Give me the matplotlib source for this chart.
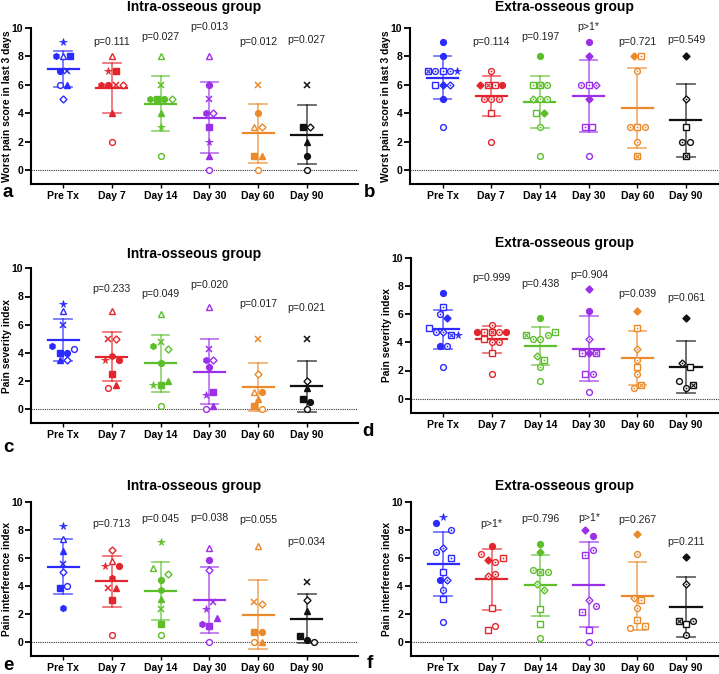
import numpy as np
import matplotlib
matplotlib.use('Agg')
import matplotlib.pyplot as plt

plt.rcParams['font.family'] = ['Liberation Sans', 'DejaVu Sans']

nan = np.nan

days = ['Pre Tx', 'Day 7', 'Day 14', 'Day 30', 'Day 60', 'Day 90']
day_colors = ['#2b2bff', '#e3262d', '#5cbf2a', '#9b30e8', '#ea8a2b', '#111111']

# intra-osseous group: one marker per patient, values per day (patient order)
intra_marks = ['*', 'fh', 'o^', 'fs', 'fo', 'x', 'oo', 'f^', 'oD']

intra_worst = [
    [9, 8, 8, 8, 7, 7, 6, 6, 5],
    [7, 6, 8, 7, 6, 6, 2, 4, 6],
    [3, 5, 8, 5, 5, 6, 1, 4, 5],
    [2, 4, 8, 3, 6, 5, 0, 1, 4],
    [nan, nan, 3, 1, 4, 6, 0, 1, 3],
    [nan, nan, nan, 3, 1, 6, 0, 2, 3],
]
intra_severity = [
    [7.5, 4.5, 7, 4, 4, 6, 4.25, 3.5, 3.5],
    [3.5, 3.75, 7, 2.5, 3.5, 5, 1.5, 1.75, 5],
    [1.75, 4.5, 6.75, 1.75, 3.25, 4.75, 0.25, 2, 4.25],
    [1.0, 3.5, 7.25, 1.25, 3, 4.25, 0, 0.25, 3.5],
    [nan, nan, 1.25, 0.25, 1.25, 5, 0, 0.75, 2.5],
    [nan, nan, nan, 0.75, 0.5, 5, 0, 1.5, 2],
]
intra_interf = [
    [8.3, 2.45, 7.35, 3.85, nan, 5.6, 4.0, 6.5, 5.0],
    [5.45, 4.55, 5.75, 3.0, 5.45, 3.85, 0.55, 3.85, 6.55],
    [7.15, 3.75, 5.3, 1.3, 4.4, 2.4, 0.55, 3.05, 4.85],
    [2.4, 1.3, 6.7, 1.15, 5.85, 2.85, 0, 1.75, 5.15],
    [nan, nan, 6.85, 0.7, 0.7, 2.85, 0, 0, 2.7],
    [nan, nan, nan, 0.45, 0.15, 4.3, 0, 2.25, 3.0],
]

# extra-osseous group: values and markers per day
extra_worst = [
    [9, 8, 7, 7, 7, 7, 7, 6, 6, 6, 5, 3],
    [7, 6, 6, 6, 6, 5, 5, 5, 4, 2],
    [8, 6, 6, 6, 5, 5, 5, 4, 4, 3, 1],
    [9, 8, 6, 6, 6, 5, 3, 3, 1],
    [8, 8, 7, 3, 3, 3, 2, 1],
    [8, 5, 3, 2, 2, 1],
]
extra_worst_marks = [
    ['fo', 'fo', 'xs', 'co', 'cs', 'co', '*', 'os', 'fD', 'cD', 'fo', 'oo'],
    ['co', 'fD', 'xs', 'cs', 'fo', 'co', 'co', 'co', 'os', 'oo'],
    ['fo', 'cs', 'xs', 'co', 'cD', 'co', 'co', 'os', 'fD', 'co', 'oo'],
    ['fo', 'fD', 'co', 'cs', 'cD', 'fD', 'cs', 'os', 'oo'],
    ['fD', 'cs', 'co', 'co', 'cs', 'co', 'co', 'xs'],
    ['fD', 'cD', 'os', 'co', 'oo', 'xs'],
]
extra_severity = [
    [7.5, 6.5, 6.0, 5.75, 5.0, 4.75, 4.75, 4.5, 4.5, 3.75, 3.75, 2.25],
    [5.25, 4.75, 4.75, 4.75, 4.75, 4.75, 4.25, 4.0, 4.0, 3.25, 1.75],
    [5.75, 4.5, 4.25, 4.25, 4.5, 4.75, 3.0, 2.75, 2.25, 1.25],
    [7.75, 6.25, 4.25, 3.25, 3.25, 3.25, 1.75, 1.75, 0.5],
    [6.25, 5.0, 3.5, 2.75, 2.25, 1.75, 0.75, 1.0],
    [5.75, 2.5, 2.25, 1.25, 0.75, 1.0],
]
extra_severity_marks = [
    ['fo', 'cs', 'co', 'fD', 'os', 'co', 'cD', 'xs', '*', 'fo', 'co', 'oo'],
    ['co', 'fo', 'cs', 'xs', 'co', 'fo', 'os', 'co', 'co', 'os', 'oo'],
    ['fo', 'xs', 'co', 'co', 'co', 'cs', 'cD', 'cs', 'co', 'oo'],
    ['fD', 'fo', 'cD', 'cs', 'fD', 'xs', 'os', 'co', 'oo'],
    ['fD', 'cs', 'cD', 'co', 'os', 'co', 'co', 'xs'],
    ['fD', 'cD', 'os', 'oo', 'co', 'xs'],
]
extra_interf = [
    [8.45, 8.9, 8.0, 6.4, 6.7, 6.0, 5.0, 4.45, 4.45, 3.7, 3.1, 1.45],
    [6.85, 6.3, 5.85, 5.7, 6.0, 4.7, 4.85, 2.45, 0.85, 1.15],
    [7.0, 6.45, 5.15, 5.0, 5.0, 4.15, 3.7, 2.4, 1.3, 0.3],
    [8.0, 7.55, 6.2, 6.55, 2.15, 3.0, 2.55, 0.85, 0.0],
    [7.7, 6.3, 3.15, 3.0, 2.45, 1.0, 1.6, 1.15],
    [6.1, 4.15, 1.55, 1.3, 1.55, 0.55],
]
extra_interf_marks = [
    ['fo', '*', 'co', 'co', 'cD', 'cs', 'os', 'fo', 'cD', 'co', 'os', 'oo'],
    ['fo', 'co', 'fD', 'co', 'cs', 'cD', 'co', 'os', 'os', 'oo'],
    ['fo', 'fD', 'co', 'xs', 'co', 'cD', 'cD', 'os', 'os', 'oo'],
    ['fD', 'fo', 'cs', 'co', 'cs', 'cD', 'co', 'os', 'oo'],
    ['fD', 'co', 'cD', 'cs', 'co', 'oo', 'cs', 'cs'],
    ['fD', 'cD', 'xs', 'os', 'co', 'co'],
]

# p-values shown above each follow-up day, and the height of each label
p_worst_intra = ['p=0.111', 'p=0.027', 'p=0.013', 'p=0.012', 'p=0.027']
p_worst_extra = ['p=0.114', 'p=0.197', 'p>1*', 'p=0.721', 'p=0.549']
p_worst_y = [9.0, 9.4, 10.1, 9.0, 9.15]
p_sev_intra = ['p=0.233', 'p=0.049', 'p=0.020', 'p=0.017', 'p=0.021']
p_sev_extra = ['p=0.999', 'p=0.438', 'p=0.904', 'p=0.039', 'p=0.061']
p_sev_y = [8.53, 8.15, 8.8, 7.45, 7.16]
p_int_intra = ['p=0.713', 'p=0.045', 'p=0.038', 'p=0.055', 'p=0.034']
p_int_extra = ['p>1*', 'p=0.796', 'p>1*', 'p=0.267', 'p=0.211']
p_int_y = [8.4, 8.79, 8.84, 8.72, 7.13]

W, H = 719, 674


def spread(vals, tol=0.46, d=0.15):
    # spread close values sideways, centred on the column
    order = np.argsort(vals, kind='stable')
    offs = np.zeros(len(vals))
    groups, cur = [], [order[0]]
    for a, b in zip(order[:-1], order[1:]):
        if vals[b] - vals[a] < tol:
            cur.append(b)
        else:
            groups.append(cur)
            cur = [b]
    groups.append(cur)
    for g in groups:
        g = sorted(g)
        for k, i in enumerate(g):
            offs[i] = (k - (len(g) - 1) / 2) * d
    return offs


def draw_marker(ax, x, y, code, color):
    ms = 4.2
    if code == 'x':
        ax.plot(x, y, marker='x', color=color, ms=4.0, mew=1.1, zorder=4)
        return
    if code == '*':
        ax.plot(x, y, marker='*', color=color, ms=5.5, mew=0.5, zorder=4)
        return
    fill, shape = code[0], code[1]
    size = ms * 0.85 if shape == 'D' else ms
    face = color if fill == 'f' else 'white'
    ax.plot(x, y, marker=shape, ms=size, mfc=face, mec=color, mew=1.0,
            ls='none', zorder=4)
    if fill == 'c':
        ax.plot(x, y, marker='o', ms=1.3, color=color, mew=0, zorder=5)
    if fill == 'x':
        ax.plot(x, y, marker='x', ms=size * 0.7, mew=0.8, color=color, zorder=5)


def draw_group(ax, i, vals, marks, color):
    vals = np.asarray(vals, float)
    keep = ~np.isnan(vals)
    v = vals[keep]
    m = [mk for mk, k in zip(marks, keep) if k]
    offs = spread(v)
    mean = v.mean()
    sd = v.std(ddof=1)
    ax.plot([i - 0.32, i + 0.32], [mean, mean], color=color, lw=1.6, zorder=3)
    ax.plot([i, i], [mean - sd, mean + sd], color=color, lw=1.3, alpha=0.65, zorder=2)
    for yy in (mean - sd, mean + sd):
        ax.plot([i - 0.18, i + 0.18], [yy, yy], color=color, lw=1.3, alpha=0.65, zorder=2)
    for x, y, mk in zip(i + offs, v, m):
        draw_marker(ax, x, y, mk, color)


def make_panel(box, xlim, title, tpad, ylabel, data, marks, ptexts, py):
    left, right, top, bottom = box
    ax = fig.add_axes([left / W, 1 - bottom / H, (right - left) / W, (bottom - top) / H])
    for i in range(6):
        mk = marks[i] if isinstance(marks[0], list) else marks
        draw_group(ax, i, data[i], mk, day_colors[i])
    for i, (t, y) in enumerate(zip(ptexts, py)):
        ax.text(i + 1, y, t, ha='center', va='center', fontsize=7.6, color='#222222')
    ax.axhline(0, color='#333333', ls=(0, (1, 1)), lw=0.8, zorder=0)
    ax.set_xlim(*xlim)
    ax.set_ylim(-1, 10)
    ax.set_yticks([0, 2, 4, 6, 8, 10])
    ax.set_xticks(range(6))
    ax.set_xticklabels(days)
    for lab in ax.get_xticklabels() + ax.get_yticklabels():
        lab.set_fontweight('bold')
        lab.set_fontsize(7.5)
    ax.tick_params(axis='y', length=4, width=1.3, pad=1.5)
    ax.tick_params(axis='x', length=3, width=1.0, pad=2)
    for s in ('top', 'right'):
        ax.spines[s].set_visible(False)
    for s in ('left', 'bottom'):
        ax.spines[s].set_linewidth(1.5)
    ax.set_title(title, fontsize=10, fontweight='bold', pad=tpad)
    ax.set_ylabel(ylabel, fontsize=7.4, fontweight='bold', va='center')
    ax.yaxis.set_label_coords(-24 / (right - left), 0.5)
    return ax


fig = plt.figure(figsize=(W / 100, H / 100), dpi=100)

xl_left = (-0.66, 6.05)
xl_right = (-0.67, 5.68)

make_panel((31, 358, 28, 184.2), xl_left, 'Intra-osseous group', 12,
           'Worst pain score in last 3 days', intra_worst, intra_marks,
           p_worst_intra, p_worst_y)
make_panel((410, 719, 28, 184.2), xl_right, 'Extra-osseous group', 12,
           'Worst pain score in last 3 days', extra_worst, extra_worst_marks,
           p_worst_extra, p_worst_y)
make_panel((31, 358, 268.3, 423.4), xl_left, 'Intra-osseous group', 7.6,
           'Pain severity index', intra_severity, intra_marks,
           p_sev_intra, p_sev_y)
make_panel((410.7, 719, 257.7, 412.8), xl_right, 'Extra-osseous group', 8,
           'Pain severity index', extra_severity, extra_severity_marks,
           p_sev_extra, p_sev_y)
make_panel((31, 358, 501.7, 656.4), xl_left, 'Intra-osseous group', 8.4,
           'Pain interference index', intra_interf, intra_marks,
           p_int_intra, p_int_y)
make_panel((410.7, 719, 501.7, 656.4), xl_right, 'Extra-osseous group', 8.4,
           'Pain interference index', extra_interf, extra_interf_marks,
           p_int_extra, p_int_y)

for letter, (px, py_) in zip('abcdef', [(8, 192), (370, 192), (8, 447),
                                       (368, 432), (8, 665), (370, 664)]):
    fig.text(px / W, 1 - py_ / H, letter, fontsize=13.5, fontweight='bold',
             ha='center', va='center')

fig.savefig('out.png', dpi=100)
